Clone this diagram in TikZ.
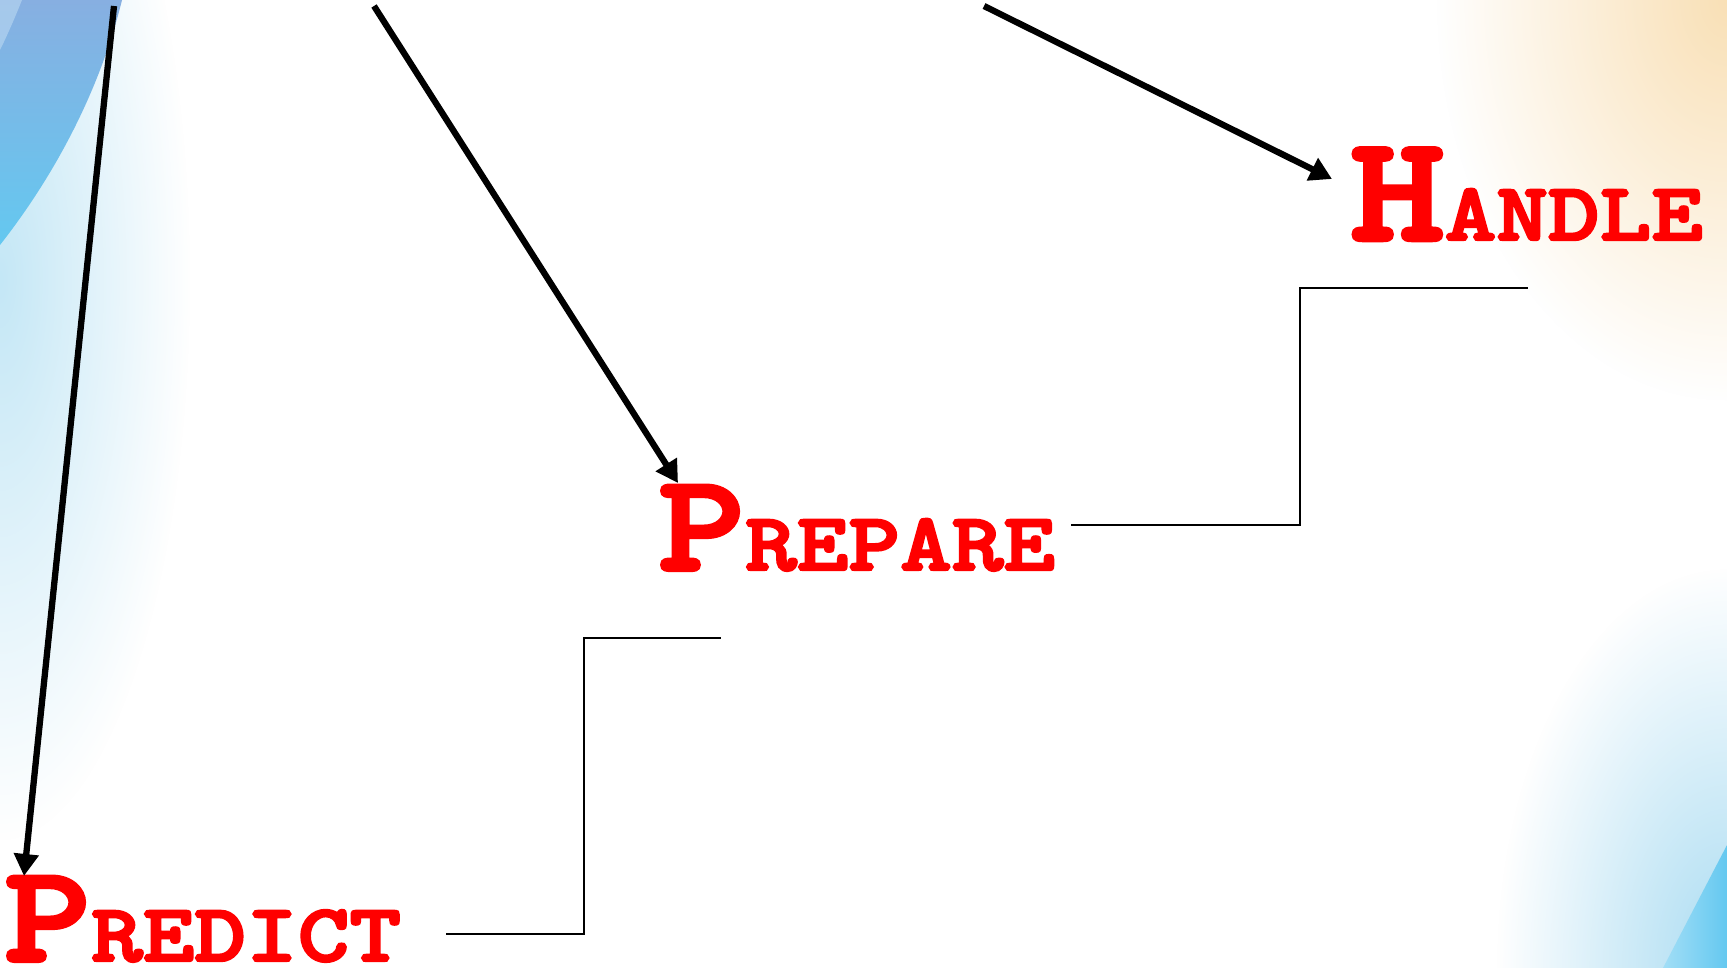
\documentclass[tikz,border=0pt]{standalone}
\usepackage{fontspec}
\newfontfamily\slabfont{lmmonolt10-bold.otf}[FakeStretch=1.2, FakeBold=3]
\usetikzlibrary{arrows.meta,fadings,calc}

\tikzfading[name=softglow, inner color=transparent!0, outer color=transparent!100]

\definecolor{titlered}{RGB}{255,0,0}
\definecolor{warmglow}{RGB}{249,224,182}
\definecolor{coolglow}{RGB}{170,220,242}
\definecolor{swooshtop}{RGB}{135,175,225}
\definecolor{swooshlow}{RGB}{100,200,240}
\definecolor{swooshlight}{RGB}{180,212,240}

% large initial followed by smaller capitals
\newcommand{\capword}[3][138]{{\slabfont\fontsize{#1}{140}\selectfont #2\fontsize{82}{84}\selectfont #3}}

\tikzset{
  title/.style={anchor=base west, inner sep=0pt, text=titlered},
  bigarrow/.style={line width=6.3pt, -{Triangle[length=22pt,width=24pt]}},
  elbow/.style={line width=2.4pt, line join=miter}
}

\begin{document}
\begin{tikzpicture}[x=1pt,y=-1pt]
\useasboundingbox (0,0) rectangle (1727,968);
\fill[white] (0,0) rectangle (1727,968);

% soft corner glows
\fill[warmglow, path fading=softglow] (1727,0) ellipse (290 and 400);
\fill[coolglow, path fading=softglow] (1727,968) ellipse (230 and 400);
\fill[coolglow!70, path fading=softglow] (0,280) ellipse (190 and 560);

% blue swooshes
\shade[top color=swooshtop, bottom color=swooshlow]
  (0,0) -- (122,0) .. controls (100,90) and (55,175) .. (0,245) -- cycle;
\fill[swooshlight, opacity=0.7] (0,0) -- (22,0) .. controls (14,20) and (6,38) .. (0,50) -- cycle;
\shade[left color=swooshlow!60, right color=swooshlow]
  (1663,968) -- (1727,845) -- (1727,968) -- cycle;

% the three stage titles
\node[title] (predict) at (4,961) {\capword{P}{REDICT}};
\node[title] (prepare) at (658,570) {\capword{P}{REPARE}};
\node[title] (handle)  at (1350,240) {\capword[150]{H}{ANDLE}};

% arrows coming in from the top edge
\coordinate (s1) at (114,6);
\coordinate (s2) at (374,6);
\coordinate (s3) at (984,6);
\draw[bigarrow] (s1) -- ($(predict.base west)+(20,-85)$);
\draw[bigarrow] (s2) -- ($(prepare.base west)+(20,-87)$);
\draw[bigarrow] (s3) -- ($(handle.base west)+(-18,-61)$);

% step connectors between the stages
\coordinate (p1) at ($(predict.base west)+(442,-27)$);
\coordinate (k1) at (584,638);
\coordinate (e1) at (721,638);
\draw[elbow] (p1) -| (k1) -- (e1);

\coordinate (p2) at ($(prepare.base west)+(413,-45)$);
\coordinate (k2) at (1300,288);
\coordinate (e2) at (1528,288);
\draw[elbow] (p2) -| (k2) -- (e2);
\end{tikzpicture}
\end{document}
